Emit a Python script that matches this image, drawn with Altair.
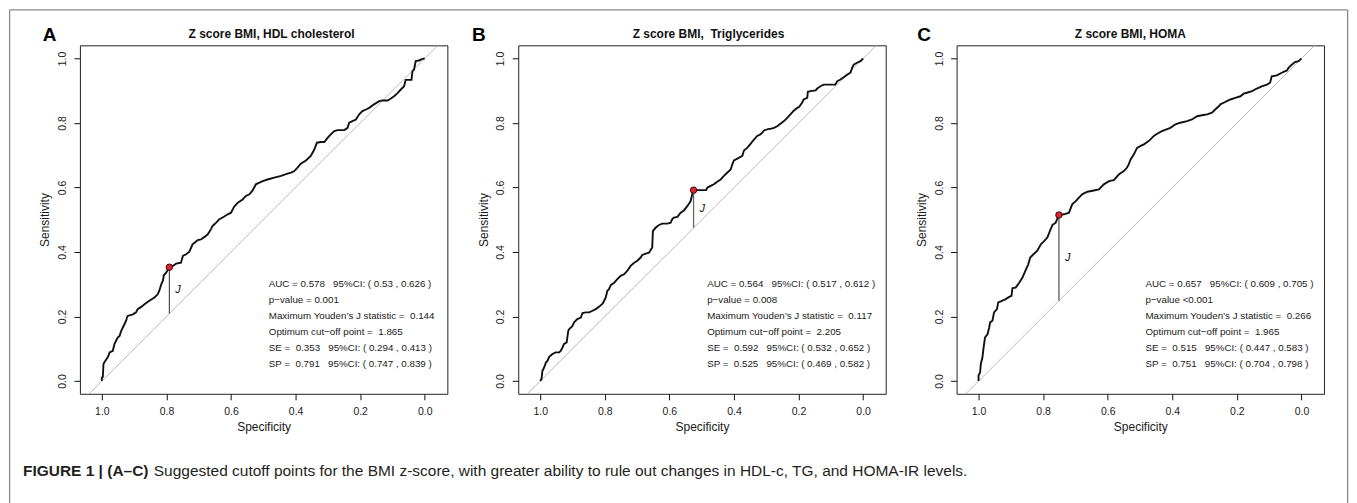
import altair as alt
import pandas as pd

# ---------------- data ----------------
panel_ids = ["A", "B", "C"]
panel_titles = ["Z score BMI, HDL cholesterol", "Z score BMI,\u00a0 Triglycerides", "Z score BMI, HOMA"]

a_spec = [1.000, 1.000, 0.997, 0.995, 0.992, 0.981, 0.976, 0.966, 0.961, 0.956, 0.951, 0.945, 0.940, 0.935,
          0.930, 0.925, 0.922, 0.920, 0.904, 0.894, 0.889, 0.878, 0.868, 0.853, 0.837, 0.827, 0.822, 0.816,
          0.811, 0.808, 0.801, 0.796, 0.791, 0.780, 0.770, 0.755, 0.749, 0.739, 0.729, 0.719, 0.713, 0.703,
          0.693, 0.682, 0.672, 0.662, 0.657, 0.646, 0.636, 0.626, 0.610, 0.600, 0.590, 0.579, 0.564, 0.554,
          0.543, 0.533, 0.523, 0.512, 0.502, 0.487, 0.476, 0.466, 0.445, 0.425, 0.414, 0.404, 0.394, 0.384,
          0.368, 0.353, 0.342, 0.334, 0.322, 0.311, 0.301, 0.291, 0.280, 0.270, 0.249, 0.239, 0.234, 0.224,
          0.213, 0.203, 0.193, 0.182, 0.172, 0.157, 0.141, 0.131, 0.115, 0.105, 0.095, 0.085, 0.074, 0.064,
          0.059, 0.041, 0.038, 0.033, 0.028, 0.018, 0.007, 0.000]
a_sens = [0.000, 0.011, 0.013, 0.053, 0.058, 0.075, 0.089, 0.094, 0.115, 0.125, 0.135, 0.140, 0.156, 0.166,
          0.176, 0.187, 0.197, 0.202, 0.207, 0.213, 0.223, 0.230, 0.238, 0.249, 0.259, 0.269, 0.280, 0.300,
          0.311, 0.328, 0.336, 0.344, 0.353, 0.357, 0.364, 0.367, 0.388, 0.393, 0.401, 0.424, 0.429, 0.437,
          0.439, 0.447, 0.455, 0.471, 0.481, 0.491, 0.502, 0.507, 0.517, 0.522, 0.541, 0.553, 0.563, 0.574,
          0.579, 0.591, 0.610, 0.615, 0.620, 0.625, 0.628, 0.631, 0.636, 0.643, 0.646, 0.651, 0.662, 0.674,
          0.684, 0.698, 0.718, 0.739, 0.741, 0.741, 0.754, 0.765, 0.775, 0.778, 0.778, 0.785, 0.801, 0.806,
          0.811, 0.827, 0.837, 0.842, 0.847, 0.858, 0.868, 0.870, 0.870, 0.876, 0.883, 0.892, 0.904, 0.914,
          0.934, 0.934, 0.961, 0.966, 0.992, 0.994, 0.999, 1.000]

b_spec = [1.000, 0.996, 0.993, 0.988, 0.982, 0.977, 0.972, 0.962, 0.952, 0.941, 0.936, 0.931, 0.926, 0.918,
          0.913, 0.910, 0.900, 0.895, 0.885, 0.874, 0.869, 0.859, 0.848, 0.838, 0.828, 0.818, 0.807, 0.802,
          0.797, 0.792, 0.787, 0.781, 0.771, 0.761, 0.751, 0.740, 0.730, 0.720, 0.709, 0.699, 0.689, 0.684,
          0.673, 0.663, 0.658, 0.653, 0.651, 0.642, 0.632, 0.622, 0.606, 0.596, 0.591, 0.586, 0.575, 0.565,
          0.555, 0.544, 0.534, 0.529, 0.525, 0.513, 0.486, 0.482, 0.472, 0.462, 0.452, 0.441, 0.431, 0.421,
          0.410, 0.405, 0.400, 0.385, 0.374, 0.369, 0.359, 0.348, 0.338, 0.328, 0.318, 0.312, 0.307, 0.292,
          0.287, 0.276, 0.266, 0.256, 0.245, 0.235, 0.225, 0.214, 0.204, 0.199, 0.189, 0.184, 0.173, 0.171,
          0.163, 0.147, 0.142, 0.132, 0.122, 0.111, 0.086, 0.080, 0.070, 0.060, 0.049, 0.039, 0.034, 0.029,
          0.019, 0.008, 0.000]
b_sens = [0.000, 0.006, 0.032, 0.042, 0.058, 0.063, 0.075, 0.084, 0.089, 0.089, 0.094, 0.104, 0.115, 0.120,
          0.156, 0.161, 0.171, 0.182, 0.192, 0.197, 0.211, 0.213, 0.213, 0.218, 0.223, 0.230, 0.240, 0.249,
          0.259, 0.280, 0.285, 0.298, 0.305, 0.316, 0.326, 0.331, 0.342, 0.357, 0.367, 0.373, 0.383, 0.391,
          0.395, 0.398, 0.406, 0.414, 0.465, 0.476, 0.484, 0.488, 0.488, 0.491, 0.502, 0.507, 0.509, 0.522,
          0.529, 0.543, 0.558, 0.579, 0.592, 0.592, 0.592, 0.600, 0.605, 0.610, 0.618, 0.625, 0.636, 0.646,
          0.656, 0.672, 0.684, 0.692, 0.698, 0.715, 0.723, 0.736, 0.749, 0.760, 0.765, 0.770, 0.777, 0.782,
          0.782, 0.785, 0.790, 0.798, 0.806, 0.816, 0.827, 0.839, 0.847, 0.849, 0.863, 0.873, 0.878, 0.897,
          0.899, 0.901, 0.907, 0.914, 0.919, 0.919, 0.919, 0.930, 0.935, 0.942, 0.950, 0.956, 0.971, 0.981,
          0.987, 0.992, 1.000]

c_spec = [1.000, 1.000, 0.995, 0.993, 0.988, 0.985, 0.980, 0.972, 0.967, 0.964, 0.957, 0.952, 0.943, 0.939,
          0.931, 0.916, 0.905, 0.898, 0.895, 0.885, 0.874, 0.864, 0.854, 0.846, 0.840, 0.830, 0.818, 0.807,
          0.797, 0.787, 0.779, 0.771, 0.761, 0.751, 0.735, 0.720, 0.710, 0.699, 0.689, 0.679, 0.663, 0.643,
          0.627, 0.612, 0.596, 0.581, 0.565, 0.550, 0.540, 0.535, 0.529, 0.519, 0.509, 0.498, 0.488, 0.473,
          0.457, 0.447, 0.432, 0.406, 0.390, 0.375, 0.354, 0.339, 0.323, 0.308, 0.292, 0.277, 0.267, 0.256,
          0.251, 0.241, 0.231, 0.220, 0.205, 0.189, 0.179, 0.169, 0.153, 0.138, 0.123, 0.107, 0.097, 0.092,
          0.076, 0.061, 0.045, 0.040, 0.030, 0.020, 0.009, 0.000]
c_sens = [0.000, 0.017, 0.027, 0.053, 0.073, 0.099, 0.135, 0.146, 0.166, 0.182, 0.187, 0.213, 0.223, 0.244,
          0.247, 0.254, 0.261, 0.264, 0.288, 0.290, 0.305, 0.321, 0.344, 0.362, 0.383, 0.393, 0.404, 0.424,
          0.434, 0.445, 0.465, 0.484, 0.491, 0.515, 0.517, 0.522, 0.548, 0.558, 0.569, 0.579, 0.587, 0.591,
          0.594, 0.610, 0.620, 0.623, 0.641, 0.651, 0.662, 0.672, 0.687, 0.703, 0.723, 0.729, 0.734, 0.744,
          0.760, 0.767, 0.775, 0.785, 0.796, 0.801, 0.806, 0.811, 0.821, 0.824, 0.827, 0.832, 0.842, 0.852,
          0.858, 0.863, 0.868, 0.873, 0.878, 0.883, 0.891, 0.894, 0.899, 0.907, 0.914, 0.919, 0.925, 0.945,
          0.948, 0.956, 0.963, 0.971, 0.981, 0.989, 0.992, 1.000]

# optimum cut-off points (specificity, sensitivity)
opt_spec = [0.791, 0.525, 0.751]
opt_sens = [0.353, 0.592, 0.515]

annotations = [
    ["AUC = 0.578\u00a0\u00a0\u00a095%CI: ( 0.53 , 0.626 )", "p\u2212value = 0.001",
     "Maximum Youden\u2019s J statistic =\u00a0 0.144", "Optimum cut\u2212off point =\u00a0 1.865",
     "SE =\u00a0 0.353\u00a0\u00a0\u00a095%CI: ( 0.294 , 0.413 )", "SP =\u00a0 0.791\u00a0\u00a0\u00a095%CI: ( 0.747 , 0.839 )"],
    ["AUC = 0.564\u00a0\u00a0\u00a095%CI: ( 0.517 , 0.612 )", "p\u2212value = 0.008",
     "Maximum Youden\u2019s J statistic =\u00a0 0.117", "Optimum cut\u2212off point =\u00a0 2.205",
     "SE =\u00a0 0.592\u00a0\u00a0\u00a095%CI: ( 0.532 , 0.652 )", "SP =\u00a0 0.525\u00a0\u00a0\u00a095%CI: ( 0.469 , 0.582 )"],
    ["AUC = 0.657\u00a0\u00a0\u00a095%CI: ( 0.609 , 0.705 )", "p\u2212value <0.001",
     "Maximum Youden\u2019s J statistic =\u00a0 0.266", "Optimum cut\u2212off point =\u00a0 1.965",
     "SE =\u00a0 0.515\u00a0\u00a0\u00a095%CI: ( 0.447 , 0.583 )", "SP =\u00a0 0.751\u00a0\u00a0\u00a095%CI: ( 0.704 , 0.798 )"],
]

caption_bold = "FIGURE 1 | (A\u2013C)"
caption_rest = ("Suggested cutoff points for the BMI z-score, with greater ability to rule out changes "
                "in HDL-c, TG, and HOMA-IR levels.")

tick_vals = [1.0, 0.8, 0.6, 0.4, 0.2, 0.0]

# ---------------- styling / layout ----------------
FONT = "Liberation Sans"
W, H = 368, 349
letter_dx = [-37.3, -46.3, -39.3]
title_dx = [8, 6.5, -10]
seg_color = ["#111111", "#666666", "#111111"]
seg_width = [0.9, 1.3, 0.9]

xs = alt.Scale(domain=[-0.07, 1.068], reverse=True, nice=False, zero=False)
ys = alt.Scale(domain=[-0.0395, 1.041], nice=False, zero=False)

x_axis = alt.Axis(values=tick_vals, format=".1f", title="Specificity", grid=False, domain=False,
                  tickSize=6, tickColor="#111", tickWidth=1, labelFontSize=10.5, labelPadding=6.5,
                  labelFlush=False, labelOverlap=False, labelColor="#1a1a1a", labelBaseline="top",
                  titleFontSize=12, titleFontWeight="normal", titleColor="#1a1a1a",
                  titleX=W / 2, titleY=36.7, titleAlign="center", titleBaseline="alphabetic")
y_axis = alt.Axis(values=tick_vals, format=".1f", title="Sensitivity", grid=False, domain=False,
                  tickSize=6, tickColor="#111", tickWidth=1, labelFontSize=10.5, labelPadding=8.5,
                  labelAngle=270, labelAlign="center", labelBaseline="alphabetic",
                  labelFlush=False, labelOverlap=False, labelColor="#1a1a1a",
                  titleFontSize=12, titleFontWeight="normal", titleColor="#1a1a1a",
                  titleAngle=270, titleX=-31, titleY=H / 2, titleAlign="center", titleBaseline="alphabetic")


def X(field="spec"):
    return alt.X(f"{field}:Q", scale=xs, axis=x_axis)


def Y(field="sens"):
    return alt.Y(f"{field}:Q", scale=ys, axis=y_axis)


def panel(i, spec, sens):
    curve_df = pd.DataFrame({"spec": spec, "sens": sens, "order": list(range(len(spec)))})
    diag_df = pd.DataFrame({"spec": [1.2, -0.2], "sens": [-0.2, 1.2]})
    opt_df = pd.DataFrame({"spec": [opt_spec[i]], "sens": [opt_sens[i]], "low": [1 - opt_spec[i]]})
    j_df = pd.DataFrame({"spec": [opt_spec[i] - 0.027], "sens": [(opt_sens[i] + 1 - opt_spec[i]) / 2]})
    lines = annotations[i]
    ann_df = pd.DataFrame({"spec": [0.483] * len(lines),
                           "sens": [0.301 - k * 0.0495 for k in range(len(lines))],
                           "label": lines})
    one = pd.DataFrame({"label": [panel_ids[i]], "title": [panel_titles[i]]})

    diag = alt.Chart(diag_df).mark_line(color="#b3b3b3", strokeWidth=0.9, clip=True).encode(x=X(), y=Y())
    curve = alt.Chart(curve_df).mark_line(color="#111111", strokeWidth=1.9).encode(
        x=X(), y=Y(), order="order:Q")
    seg = alt.Chart(opt_df).mark_rule(color=seg_color[i], strokeWidth=seg_width[i]).encode(
        x=X(), y=Y(), y2="low:Q")
    dot = alt.Chart(opt_df).mark_circle(size=42, fill="#e8202a", stroke="#000", strokeWidth=0.8,
                                        opacity=1).encode(x=X(), y=Y())
    jtxt = alt.Chart(j_df).mark_text(text="J", fontStyle="italic", fontSize=11, font=FONT,
                                     align="center", baseline="middle", color="#111").encode(x=X(), y=Y())
    ann = alt.Chart(ann_df).mark_text(fontSize=9.8, font=FONT, align="left", baseline="middle",
                                      color="#1a1a1a").encode(x=X(), y=Y(), text="label:N")
    letter = alt.Chart(one).mark_text(fontSize=19, fontWeight="bold", font=FONT, align="left",
                                      baseline="alphabetic", color="#000").encode(
        x=alt.value(letter_dx[i]), y=alt.value(-4.7), text="label:N")
    title = alt.Chart(one).mark_text(fontSize=12, fontWeight="bold", font=FONT, align="center",
                                     baseline="alphabetic", color="#111").encode(
        x=alt.value(W / 2 + title_dx[i]), y=alt.value(-7.3), text="title:N")

    layers = [diag, curve, seg, dot, jtxt, ann, letter, title]

    if i == 0:
        fr = pd.DataFrame({"k": [0]})
        frame_col = "#8a8a8a"
        top = alt.Chart(fr).mark_rule(color=frame_col, strokeWidth=1.3).encode(
            x=alt.value(-70.4), x2=alt.value(1269.6), y=alt.value(-35.4))
        left = alt.Chart(fr).mark_rule(color=frame_col, strokeWidth=1.3).encode(
            x=alt.value(-70.4), y=alt.value(-35.4), y2=alt.value(459))
        right = alt.Chart(fr).mark_rule(color=frame_col, strokeWidth=1.3).encode(
            x=alt.value(1269.6), y=alt.value(-35.4), y2=alt.value(459))
        cap_b = alt.Chart(pd.DataFrame({"t": [caption_bold]})).mark_text(
            fontSize=15.5, fontWeight="bold", font=FONT, align="left", baseline="alphabetic",
            color="#231f20").encode(x=alt.value(-57), y=alt.value(431.5), text="t:N")
        cap_r = alt.Chart(pd.DataFrame({"t": [caption_rest]})).mark_text(
            fontSize=15.5, font=FONT, align="left", baseline="alphabetic",
            color="#231f20").encode(x=alt.value(74), y=alt.value(431.5), text="t:N")
        layers += [top, left, right, cap_b, cap_r]

    return alt.layer(*layers).properties(width=W, height=H)


pa = panel(0, a_spec, a_sens)
pb = panel(1, b_spec, b_sens)
pc = panel(2, c_spec, c_sens)

chart = alt.hconcat(pa, pb, pc, spacing=71, bounds="flush").properties(
    padding=0, background="white"
).configure(font=FONT).configure_view(stroke="#222", strokeWidth=1)

chart.save("out.html", embed_options={"renderer": "svg", "actions": False})
